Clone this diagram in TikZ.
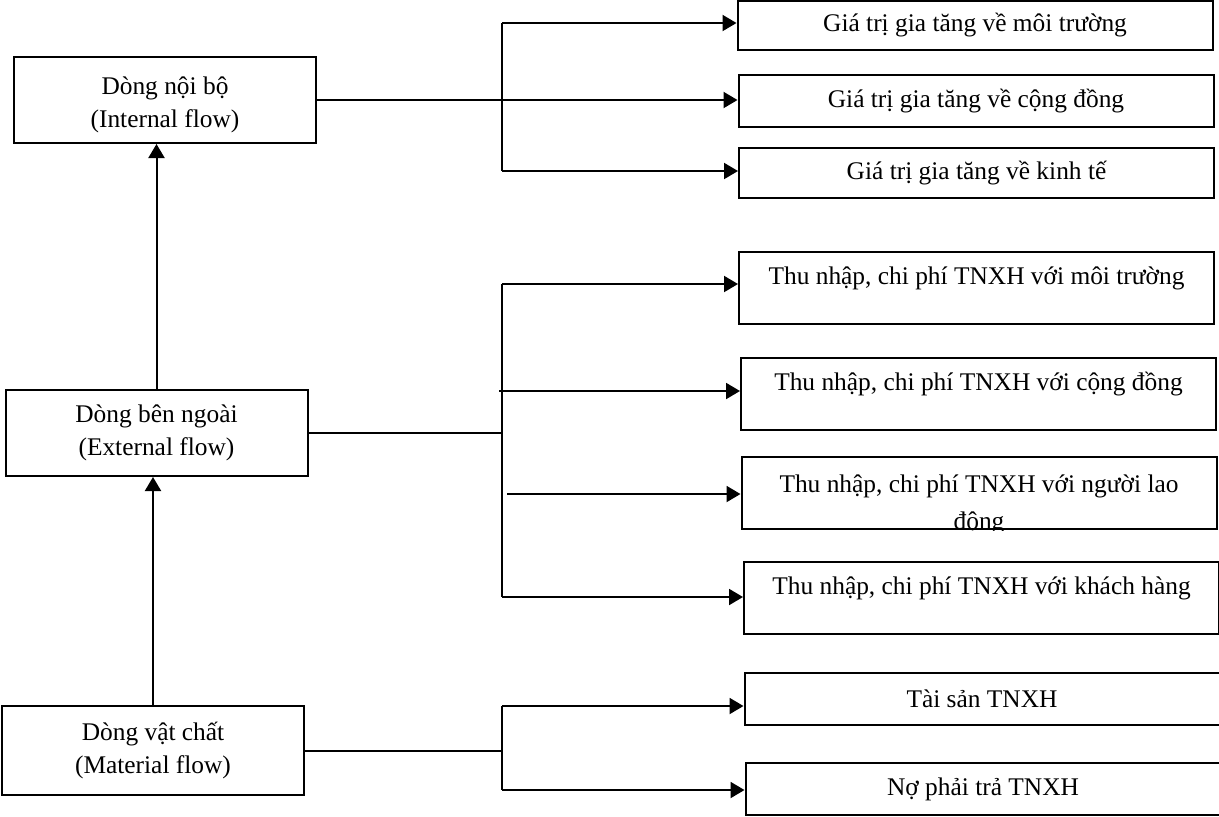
\documentclass[tikz,border=0pt]{standalone}
\usepackage{fontspec}
\setmainfont{Liberation Serif}
\usetikzlibrary{arrows.meta,positioning}
\tikzset{
  flowbox/.style={draw=black,line width=1pt,minimum width=151pt,
                  minimum height=43pt,align=center,inner sep=0pt,
                  font=\fontsize{12.7}{16.5}\selectfont},
  valuebox/.style={draw=black,line width=1pt,minimum width=237.5pt,
                   minimum height=25pt,inner sep=0pt,
                   font=\fontsize{12.7}{16.5}\selectfont},
  incomebox/.style={draw=black,line width=1pt,minimum width=237.5pt,
                    inner ysep=0pt,text height=16.5pt,text depth=19.5pt,
                    font=\fontsize{12.7}{16.5}\selectfont},
  blackarr/.style={-{Triangle[length=7pt,width=8pt]},line width=1pt},
  busline/.style={line width=1pt}
}
\begin{document}
\begin{tikzpicture}[x=0.5pt,y=-0.5pt]
    \path[use as bounding box] (0,0) rectangle (1219,816);

    % left column
    \node[flowbox,text height=30pt] (internal) at (165,100)
      {Dòng nội bộ\\(Internal flow)};
    \node[flowbox] (external) at (156.5,433)
      {Dòng bên ngoài\\(External flow)};
    \node[flowbox,minimum height=44.5pt] (material) at (153,750.5)
      {Dòng vật chất\\(Material flow)};
    \draw[blackarr] (material.north) -- (material.north |- external.south);
    \draw[blackarr] (external.north) -- (external.north |- internal.south);

    % value added
    \node[valuebox,minimum height=24.5pt] (vmt) at (975,25.5)
      {Giá trị gia tăng về môi trường};
    \node[valuebox,minimum height=26pt] (vcd) at (976,101)
      {Giá trị gia tăng về cộng đồng};
    \node[valuebox] (vkt) at (976.5,173)
      {Giá trị gia tăng về kinh tế};
    \coordinate (itop) at (502,23);
    \coordinate (ibot) at (502,171);
    \draw[busline] (itop) -- (ibot);
    \draw[blackarr] (internal.east) -- (internal.east -| vcd.west);
    \draw[blackarr] (itop) -- (itop -| vmt.west);
    \draw[blackarr] (ibot) -- (ibot -| vkt.west);

    % income and cost
    \node[incomebox] (imt) at (976.5,287.5)
      {Thu nhập, chi phí TNXH với môi trường};
    \node[incomebox] (icd) at (978.5,393.5)
      {Thu nhập, chi phí TNXH với cộng đồng};
    \node[incomebox] (inld) at (979,493) {};
    \begin{scope}
      \clip (inld.south west) rectangle (inld.north east);
      \node[align=center,inner sep=0pt,font=\fontsize{12.7}{18.5}\selectfont]
        (inldtext) at (979,505) {Thu nhập, chi phí TNXH với người lao\\động};
    \end{scope}
    \node[incomebox] (ikh) at (981.5,597.5)
      {Thu nhập, chi phí TNXH với khách hàng};
    \coordinate (etop) at (502,284);
    \coordinate (ebot) at (502,597);
    \coordinate (ecd) at (499,391);
    \coordinate (enld) at (507,494);
    \draw[busline] (etop) -- (ebot);
    \draw[busline] (external.east) -- (external.east -| etop);
    \draw[blackarr] (etop) -- (etop -| imt.west);
    \draw[blackarr] (ecd) -- (ecd -| icd.west);
    \draw[blackarr] (enld) -- (enld -| inld.west);
    \draw[blackarr] (ebot) -- (ebot -| ikh.west);

    % assets and liabilities
    \node[valuebox,minimum height=26pt] (tsan) at (982,699) {Tài sản TNXH};
    \node[valuebox,minimum height=26pt] (notra) at (983,789) {Nợ phải trả TNXH};
    \coordinate (mtop) at (502,706);
    \coordinate (mbot) at (502,790);
    \draw[busline] (mtop) -- (mbot);
    \draw[busline] (material.east) -- (material.east -| mtop);
    \draw[blackarr] (mtop) -- (mtop -| tsan.west);
    \draw[blackarr] (mbot) -- (mbot -| notra.west);
  \end{tikzpicture}
\end{document}
